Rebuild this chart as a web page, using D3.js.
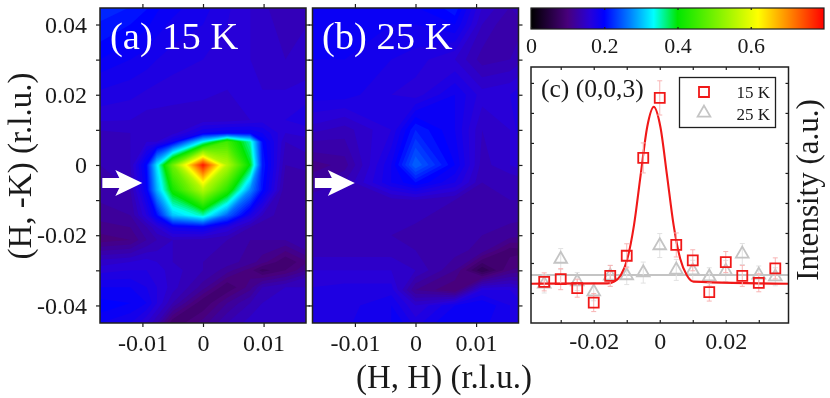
<!DOCTYPE html>
<html>
<head>
<meta charset="utf-8">
<script src="https://cdn.jsdelivr.net/npm/d3@7"></script>
<style>
  html, body { margin: 0; padding: 0; background: #fff; }
  svg { display: block; }
  text { font-family: "Liberation Serif", serif; fill: #1a1a1a; }
</style>
</head>
<body>
<div id="chart"></div>
<script>
// Panel (a): map nodes
var nodesXa = [-0.022, -0.012, -0.0093, -0.0076, -0.005, 0, 0.004, 0.0078, 0.0098, 0.0136, 0.021];
var nodesYa = [0.05, 0.03, 0.0128, 0.0091, 0.0066, 0, -0.0071, -0.0143, -0.0177, -0.0214, -0.0276, -0.03, -0.0348, -0.0393, -0.045, -0.05];
var valuesA = [
  [.24, .23, .22, .21, .20, .19, .175, .16, .15, .145, .15],
  [.21, .19, .185, .18, .175, .17, .165, .16, .155, .15, .155],
  [.165, .16, .155, .155, .155, .155, .155, .16, .165, .17, .19],
  [.14, .15, .15, .15, .155, .19, .20, .20, .19, .16, .17],
  [.13, .15, .16, .16, .19, .34, .46, .36, .21, .15, .16],
  [.13, .15, .21, .33, .50, .79, .56, .40, .22, .14, .15],
  [.13, .14, .20, .30, .42, .56, .44, .28, .21, .13, .13],
  [.12, .13, .17, .21, .31, .36, .26, .18, .15, .13, .13],
  [.11, .12, .14, .16, .19, .20, .17, .14, .13, .13, .13],
  [.10, .11, .13, .14, .15, .145, .14, .13, .13, .13, .13],
  [.15, .16, .165, .16, .15, .14, .135, .125, .115, .09, .13],
  [.16, .17, .17, .165, .155, .14, .125, .105, .085, .10, .14],
  [.19, .19, .18, .17, .155, .125, .09, .115, .14, .15, .15],
  [.21, .20, .19, .17, .14, .09, .12, .14, .15, .15, .15],
  [.20, .18, .16, .14, .09, .115, .14, .155, .16, .16, .16],
  [.20, .18, .15, .12, .10, .13, .15, .16, .16, .16, .16]
];

// Panel (b)
var nodesXb = [-0.0208, -0.0117, -0.004, 0, 0.0065, 0.011, 0.0156, 0.0205];
var nodesYb = [0.05, 0.04, 0.03, 0.02, 0.01, 0, -0.005, -0.01, -0.02, -0.0243, -0.03, -0.0356, -0.04, -0.05];
var valuesB = [
  [.19, .19, .19, .21, .24, .17, .15, .16],
  [.19, .19, .19, .19, .20, .15, .13, .15],
  [.19, .19, .18, .175, .16, .135, .14, .16],
  [.185, .185, .17, .165, .19, .165, .17, .19],
  [.16, .145, .17, .22, .19, .15, .16, .21],
  [.105, .125, .19, .26, .20, .145, .16, .18],
  [.12, .14, .19, .21, .18, .14, .14, .15],
  [.14, .145, .145, .15, .14, .135, .14, .14],
  [.14, .14, .14, .135, .13, .13, .125, .12],
  [.145, .145, .145, .14, .135, .125, .095, .10],
  [.16, .16, .16, .15, .12, .07, .11, .12],
  [.17, .175, .175, .12, .10, .17, .17, .15],
  [.17, .175, .19, .16, .19, .20, .18, .16],
  [.18, .18, .19, .19, .20, .19, .18, .17]
];

// Colour scale
var colorStops = [0, 0.1, 0.16, 0.2, 0.27, 0.335, 0.4, 0.62, 0.8];
var colorValues = ["#000000", "#48007c", "#2800d8", "#0000ff", "#0080ff", "#00ffff", "#00e600", "#ffff00", "#ff0000"];
var colorTicks = [0, 0.2, 0.4, 0.6];

// Panel (c)
var scanH = [-0.035, -0.03, -0.025, -0.02, -0.015, -0.01, -0.005, 0, 0.005, 0.01, 0.015, 0.02, 0.025, 0.03, 0.035];
var counts15 = [1.37, 1.46, 1.16, 0.68, 1.57, 2.24, 5.5, 7.5, 2.6, 2.09, 1.03, 2.03, 1.57, 1.34, 1.82];
var errors15 = [0.3, 0.35, 0.3, 0.3, 0.35, 0.4, 0.5, 0.57, 0.4, 0.35, 0.3, 0.35, 0.35, 0.3, 0.35];
var counts25 = [1.3, 2.13, 1.38, 1.04, 1.57, 1.58, 1.68, 2.58, 1.77, 1.74, 1.54, 1.73, 2.3, 1.6, 1.54];
var errors25 = [0.3, 0.35, 0.3, 0.3, 0.35, 0.3, 0.35, 0.4, 0.35, 0.35, 0.3, 0.35, 0.35, 0.3, 0.3];
var fitH = [-0.039, -0.0158, -0.0138, -0.0118, -0.0098, -0.0078, -0.0058, -0.0038, -0.0018, 0.0002, 0.0022, 0.0042, 0.0062, 0.0082, 0.0102, 0.039];
var fit15 = [1.31, 1.32, 1.38, 1.59, 2.14, 3.26, 4.92, 6.53, 7.2, 6.53, 4.92, 3.26, 2.14, 1.59, 1.38, 1.31];
var fitHflat = [-0.039, 0.039];
var fit25 = [1.6, 1.6];

var mapXTicks = [-0.01, 0, 0.01];
var mapYTicks = [0.04, 0.03, 0.02, 0.01, 0, -0.01, -0.02, -0.03, -0.04];
var mapYLabels = [0.04, 0.02, 0, -0.02, -0.04];
var scanXTicks = [-0.03, -0.02, -0.01, 0, 0.01, 0.02, 0.03];
var scanXLabels = [-0.02, 0, 0.02];
var scanYTicks = [1, 2, 3, 4, 5, 6, 7, 8];

var width = 830, height = 398;
var ink = "#1f1f1f";

var svg = d3.select("#chart").append("svg")
    .attr("width", width)
    .attr("height", height);

var defs = svg.append("defs");
// the source is a soft raster, take the edge off everything a bit
defs.append("filter")
    .attr("id", "soft")
    .attr("filterUnits", "userSpaceOnUse")
    .attr("color-interpolation-filters", "sRGB")
    .attr("x", 0).attr("y", 0)
    .attr("width", width).attr("height", height)
  .append("feGaussianBlur")
    .attr("stdDeviation", 0.55);

var root = svg.append("g").attr("filter", "url(#soft)");

var color = d3.scaleLinear().domain(colorStops).range(colorValues).clamp(true);

function labelFormat(labels) {
  return function(d) {
    return labels.indexOf(d) >= 0 ? String(d) : "";
  };
}

function styleAxis(g, size) {
  g.select(".domain").remove();
  g.selectAll("line").attr("stroke", ink).attr("stroke-width", 1.2);
  g.selectAll("text").style("font-size", size + "px");
}

function drawMap(id, left, right, nodesX, nodesY, values) {
  var x = d3.scaleLinear().domain([-0.017, 0.017]).range([left, right]);
  var y = d3.scaleLinear().domain([0.0447, -0.045]).range([8, 323]);

  // contour space -> node coordinates (nodes are not evenly spaced)
  var nx = nodesX.length, ny = nodesY.length;
  var ix = d3.scaleLinear().domain(d3.range(nx).map(function(i) { return i + 0.5; })).range(nodesX);
  var iy = d3.scaleLinear().domain(d3.range(ny).map(function(i) { return i + 0.5; })).range(nodesY);

  var contours = d3.contours()
      .size([nx, ny])
      .thresholds(d3.range(0, 0.8, 0.01))(d3.merge(values));

  var path = d3.geoPath(d3.geoTransform({
    point: function(px, py) {
      this.stream.point(x(ix(px)), y(iy(py)));
    }
  }));

  defs.append("clipPath")
      .attr("id", "clip-" + id)
    .append("rect")
      .attr("x", left).attr("y", 8)
      .attr("width", right - left).attr("height", 315);

  var g = root.append("g").attr("class", "map " + id);

  g.append("g")
      .attr("clip-path", "url(#clip-" + id + ")")
    .selectAll("path")
    .data(contours)
    .join("path")
      .attr("d", path)
      .attr("fill", function(d) { return color(d.value); });

  g.append("rect")
      .attr("x", left).attr("y", 8)
      .attr("width", right - left).attr("height", 315)
      .attr("fill", "none")
      .attr("stroke", ink)
      .attr("stroke-width", 1.5);

  // white arrow
  var ax = x(-0.0167) + 0.5, ay = y(-0.0051);
  g.append("path")
      .attr("d", "M" + ax + "," + (ay - 5) + "h17l-4,-8l27,13l-27,13l4,-8h-17z")
      .attr("fill", "#fff");

  g.append("g")
      .attr("transform", "translate(0,323)")
      .call(d3.axisBottom(x).tickValues(mapXTicks).tickSize(4).tickPadding(7)
        .tickFormat(function(d) { return String(d); }))
      .call(styleAxis, 24);
  g.append("g")
      .attr("transform", "translate(0,8)")
      .call(d3.axisTop(x).tickValues(mapXTicks).tickSize(4).tickFormat(""))
      .call(styleAxis, 24);
  g.append("g")
      .attr("transform", "translate(" + right + ",0)")
      .call(d3.axisRight(y).tickValues(mapYTicks).tickSize(4).tickFormat(""))
      .call(styleAxis, 24);

  return { g: g, x: x, y: y };
}

var mapA = drawMap("a", 100, 306, nodesXa, nodesYa, valuesA);
var mapB = drawMap("b", 312.5, 518.5, nodesXb, nodesYb, valuesB);

mapA.g.append("g")
    .attr("transform", "translate(100,0)")
    .call(d3.axisLeft(mapA.y).tickValues(mapYTicks).tickSize(4).tickPadding(9)
      .tickFormat(labelFormat(mapYLabels)))
    .call(styleAxis, 24);
mapB.g.append("g")
    .attr("transform", "translate(312.5,0)")
    .call(d3.axisLeft(mapB.y).tickValues(mapYTicks).tickSize(4).tickFormat(""))
    .call(styleAxis, 24);

root.append("text").attr("x", 110).attr("y", 49)
    .style("font-size", "38.5px").style("fill", "#fff").text("(a) 15 K");
root.append("text").attr("x", 322).attr("y", 49)
    .style("font-size", "38.5px").style("fill", "#fff").text("(b) 25 K");

// Colour bar
var barX = d3.scaleLinear().domain([0, 0.8]).range([531, 824]);
var gradient = defs.append("linearGradient").attr("id", "bar");
gradient.selectAll("stop")
    .data(colorStops)
    .join("stop")
      .attr("offset", function(d) { return d / 0.8; })
      .attr("stop-color", function(d) { return color(d); });

var bar = root.append("g").attr("class", "colorbar");
bar.append("rect")
    .attr("x", 531).attr("y", 8)
    .attr("width", 293).attr("height", 21)
    .attr("fill", "url(#bar)")
    .attr("stroke", ink)
    .attr("stroke-width", 1.2);
bar.append("g")
    .attr("transform", "translate(0,29)")
    .call(d3.axisBottom(barX).tickValues(colorTicks).tickSize(-2).tickPadding(8)
      .tickFormat(function(d) { return String(d); }))
    .call(styleAxis, 22);
bar.append("g")
    .attr("transform", "translate(0,8)")
    .call(d3.axisTop(barX).tickValues(colorTicks).tickSize(-2).tickFormat(""))
    .call(styleAxis, 22);

// Panel (c)
var cx = d3.scaleLinear().domain([-0.039, 0.039]).range([531, 788.5]);
var cy = d3.scaleLinear().domain([0, 8.53]).range([323, 67]);
var scan = root.append("g").attr("class", "scan");

var line = d3.line()
    .x(function(d) { return cx(d[0]); })
    .y(function(d) { return cy(d[1]); });

scan.append("path")
    .datum(d3.zip(fitHflat, fit25))
    .attr("d", line)
    .attr("fill", "none")
    .attr("stroke", "#c4c4c4")
    .attr("stroke-width", 2);

function drawPoints(cls, counts, errors, barColor, markColor, symbol) {
  var rows = d3.zip(scanH, counts, errors);
  var s = scan.append("g").attr("class", cls);
  s.selectAll("line")
      .data(rows)
      .join("line")
        .attr("x1", function(d) { return cx(d[0]); })
        .attr("x2", function(d) { return cx(d[0]); })
        .attr("y1", function(d) { return cy(d[1] - d[2]); })
        .attr("y2", function(d) { return cy(d[1] + d[2]); })
        .attr("stroke", barColor)
        .attr("stroke-width", 1);
  s.selectAll("path.cap")
      .data(rows)
      .join("path")
        .attr("class", "cap")
        .attr("d", function(d) {
          return "M" + (cx(d[0]) - 2.5) + "," + cy(d[1] - d[2]) + "h5" +
                 "M" + (cx(d[0]) - 2.5) + "," + cy(d[1] + d[2]) + "h5";
        })
        .attr("stroke", barColor)
        .attr("stroke-width", 1);
  s.selectAll("path.mark")
      .data(rows)
      .join("path")
        .attr("class", "mark")
        .attr("transform", function(d) { return "translate(" + cx(d[0]) + "," + cy(d[1]) + ")"; })
        .attr("d", symbol)
        .attr("fill", "none")
        .attr("stroke", markColor)
        .attr("stroke-width", 1.8);
}

var squareMark = d3.symbol().type(d3.symbolSquare).size(100);
var triangleMark = d3.symbol().type(d3.symbolTriangle).size(70);

drawPoints("t25", counts25, errors25, "#e2e2e2", "#c4c4c4", triangleMark);

scan.append("path")
    .datum(d3.zip(fitH, fit15))
    .attr("d", line.curve(d3.curveMonotoneX))
    .attr("fill", "none")
    .attr("stroke", "#f01818")
    .attr("stroke-width", 2.1);

drawPoints("t15", counts15, errors15, "#f8b4b4", "#f01818", squareMark);

scan.append("rect")
    .attr("x", 531).attr("y", 67)
    .attr("width", 257.5).attr("height", 256)
    .attr("fill", "none")
    .attr("stroke", ink)
    .attr("stroke-width", 1.5);

scan.append("g")
    .attr("transform", "translate(0,323)")
    .call(d3.axisBottom(cx).tickValues(scanXTicks).tickSizeInner(-3).tickSizeOuter(0).tickPadding(9)
      .tickFormat(labelFormat(scanXLabels)))
    .call(styleAxis, 24);
scan.append("g")
    .attr("transform", "translate(0,67)")
    .call(d3.axisTop(cx).tickValues(scanXTicks).tickSizeInner(-3).tickSizeOuter(0).tickFormat(""))
    .call(styleAxis, 24);
scan.append("g")
    .attr("transform", "translate(531,0)")
    .call(d3.axisLeft(cy).tickValues(scanYTicks).tickSizeInner(-3).tickSizeOuter(0).tickFormat(""))
    .call(styleAxis, 24);
scan.append("g")
    .attr("transform", "translate(788.5,0)")
    .call(d3.axisRight(cy).tickValues(scanYTicks).tickSizeInner(-3).tickSizeOuter(0).tickFormat(""))
    .call(styleAxis, 24);

scan.append("text").attr("x", 541).attr("y", 97)
    .style("font-size", "25.5px").text("(c) (0,0,3)");

// Legend
var legend = scan.append("g").attr("class", "legend");
legend.append("rect")
    .attr("x", 679.5).attr("y", 77.5)
    .attr("width", 96).attr("height", 50)
    .attr("fill", "#fff")
    .attr("stroke", ink)
    .attr("stroke-width", 1.3);
legend.append("path")
    .attr("transform", "translate(704,92)")
    .attr("d", squareMark)
    .attr("fill", "none").attr("stroke", "#f01818").attr("stroke-width", 1.8);
legend.append("path")
    .attr("transform", "translate(704,113)")
    .attr("d", triangleMark)
    .attr("fill", "none").attr("stroke", "#c4c4c4").attr("stroke-width", 1.8);
legend.append("text").attr("x", 770).attr("y", 98).attr("text-anchor", "end")
    .style("font-size", "17px").text("15 K");
legend.append("text").attr("x", 770).attr("y", 120).attr("text-anchor", "end")
    .style("font-size", "17px").text("25 K");

// Axis titles
root.append("text")
    .attr("x", 444).attr("y", 388)
    .attr("text-anchor", "middle")
    .style("font-size", "33px")
    .text("(H, H) (r.l.u.)");
root.append("text")
    .attr("transform", "translate(31,166) rotate(-90)")
    .attr("text-anchor", "middle")
    .style("font-size", "33px")
    .text("(H, -K) (r.l.u.)");
root.append("text")
    .attr("transform", "translate(818,190) rotate(-90)")
    .attr("text-anchor", "middle")
    .style("font-size", "31px")
    .text("Intensity (a.u.)");
</script>
</body>
</html>
